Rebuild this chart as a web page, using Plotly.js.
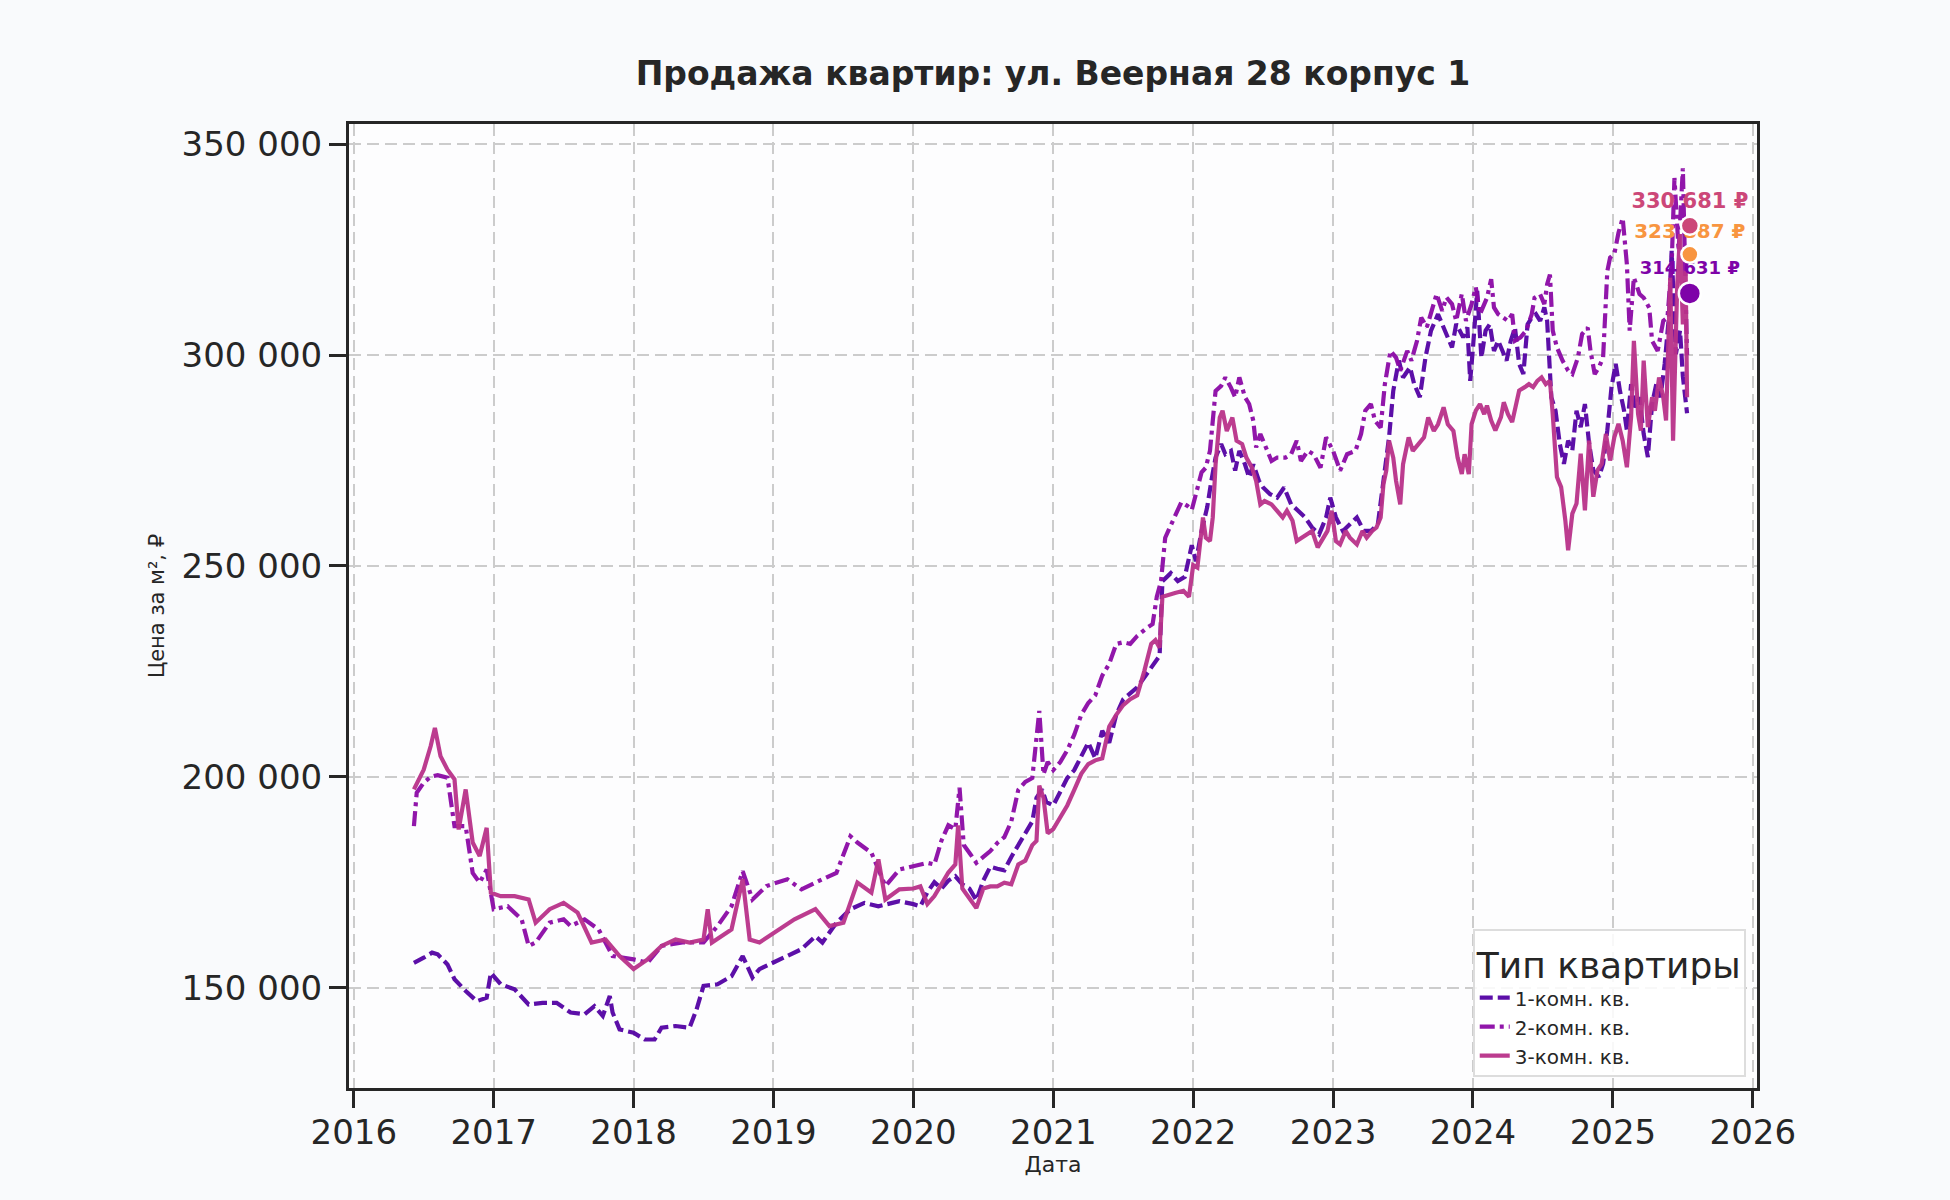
<!DOCTYPE html>
<html>
<head>
<meta charset="utf-8">
<script src="https://cdn.plot.ly/plotly-3.0.1.min.js"></script>
<style>
  html, body { margin: 0; padding: 0; background: #f9fafc; }
  #chart { width: 1950px; height: 1200px; }
</style>
</head>
<body>
<div id="chart"></div>
<script>
// price per m2 by apartment type, dates as decimal years
var names = ['1-комн. кв.', '2-комн. кв.', '3-комн. кв.'];
var colors = ['#5302a3', '#8b0aa5', '#b83289'];

var x1 = [2016.43, 2016.47, 2016.5, 2016.56, 2016.6, 2016.67, 2016.72, 2016.8, 2016.88, 2016.95, 2016.98,
  2017.05, 2017.15, 2017.25, 2017.35, 2017.45, 2017.55, 2017.65, 2017.72, 2017.78, 2017.83, 2017.85, 2017.9,
  2018.0, 2018.08, 2018.15, 2018.2, 2018.3, 2018.4, 2018.45, 2018.5, 2018.6, 2018.7, 2018.78, 2018.85, 2018.9,
  2019.0, 2019.1, 2019.2, 2019.3, 2019.35, 2019.45, 2019.55, 2019.65, 2019.75, 2019.85, 2019.9,
  2020.0, 2020.05, 2020.1, 2020.15, 2020.2, 2020.25, 2020.3, 2020.35, 2020.4, 2020.45, 2020.5, 2020.55, 2020.6,
  2020.65, 2020.7, 2020.75, 2020.8, 2020.85, 2020.88, 2020.92, 2020.95,
  2021.0, 2021.1, 2021.15, 2021.25, 2021.3, 2021.35, 2021.4, 2021.45, 2021.5, 2021.6, 2021.7, 2021.76, 2021.78,
  2021.84, 2021.89, 2021.94, 2021.99, 2022.02, 2022.06, 2022.1, 2022.13, 2022.16, 2022.2, 2022.23, 2022.27,
  2022.3, 2022.33, 2022.37, 2022.4, 2022.43, 2022.47, 2022.5, 2022.55, 2022.6, 2022.65, 2022.7, 2022.75, 2022.8,
  2022.85, 2022.9, 2022.95, 2022.98, 2023.02, 2023.07, 2023.12, 2023.17, 2023.22, 2023.27, 2023.32, 2023.36,
  2023.4, 2023.43, 2023.47, 2023.5, 2023.55, 2023.58, 2023.62, 2023.66, 2023.7, 2023.75, 2023.8, 2023.85,
  2023.88, 2023.93, 2023.96, 2023.98, 2024.0, 2024.03, 2024.06, 2024.09, 2024.12, 2024.15, 2024.18, 2024.21,
  2024.24, 2024.27, 2024.3, 2024.33, 2024.36, 2024.39, 2024.42, 2024.45, 2024.48, 2024.51, 2024.53, 2024.56,
  2024.59, 2024.62, 2024.65, 2024.68, 2024.71, 2024.74, 2024.77, 2024.8, 2024.83, 2024.86, 2024.9, 2024.93,
  2024.96, 2024.99, 2025.02, 2025.05, 2025.08, 2025.1, 2025.13, 2025.16, 2025.19, 2025.22, 2025.25, 2025.28,
  2025.31, 2025.34, 2025.37, 2025.4, 2025.42, 2025.45, 2025.48, 2025.5, 2025.53];
var y1 = [155900, 156500, 157100, 158300, 157900, 155500, 152000, 149200, 146800, 147600, 153500,
  150800, 149600, 146000, 146400, 146400, 144100, 143700, 145600, 143300, 148000, 144100, 140100,
  139300, 137700, 137700, 140500, 140900, 140500, 144800, 150400, 150800, 152700, 157500, 152400, 154400,
  155900, 157500, 159100, 162200, 160700, 165400, 168600, 170100, 169300, 170100, 170500,
  169800, 169300, 172600, 175000, 173500, 175400, 176400, 174500, 173500, 170700, 175400, 178700, 178200,
  177800, 181000, 183800, 186600, 189400, 195000, 197000, 194000,
  193200, 199700, 201600, 208100, 204400, 210900, 208100, 214700, 218400, 221200, 225900, 228700, 246400,
  248300, 246400, 247400, 254900, 251100, 258300, 263900, 270200, 275700, 278900, 276500, 277300,
  272600, 277300, 274100, 271000, 274100, 270200, 268600, 267000, 266200, 268600, 264600, 263100, 261500,
  259100, 257500, 261500, 266200, 261500, 258300, 259900, 261500, 258300, 258300, 259900, 269400,
  280500, 291500, 298700, 294700, 297100, 293100, 290000, 299400, 305800, 309700, 305800, 301800,
  307400, 304200, 306600, 293900, 301800, 315200, 299400, 305800, 307300, 301000, 303400, 301000,
  298700, 303400, 306500, 297900, 295500, 307300, 308900, 309700, 308100, 311300, 308100, 290000,
  286800, 279000, 274200, 279700, 277400, 286800, 282900, 288400, 279000, 272700, 271100, 274200,
  282100, 292400, 297900, 291600, 286800, 282100, 293100, 287600, 290000, 281300, 275800, 288400,
  293100, 290000, 297900, 308900, 324700, 300200, 305800, 295000, 286200];

var x2 = [2016.43, 2016.45, 2016.5, 2016.55, 2016.6, 2016.67, 2016.72, 2016.8, 2016.85, 2016.9, 2016.95,
  2017.0, 2017.1, 2017.2, 2017.25, 2017.3, 2017.4, 2017.5, 2017.55, 2017.65, 2017.75, 2017.85,
  2018.0, 2018.1, 2018.2, 2018.35, 2018.5, 2018.6, 2018.7, 2018.78, 2018.85, 2018.95,
  2019.1, 2019.2, 2019.35, 2019.45, 2019.55, 2019.6, 2019.7, 2019.8, 2019.9,
  2020.0, 2020.1, 2020.15, 2020.2, 2020.25, 2020.3, 2020.33, 2020.36, 2020.4, 2020.45, 2020.5, 2020.55,
  2020.6, 2020.65, 2020.7, 2020.75, 2020.8, 2020.85, 2020.9, 2020.93, 2020.96,
  2021.0, 2021.05, 2021.1, 2021.15, 2021.2, 2021.25, 2021.3, 2021.35, 2021.4, 2021.45, 2021.5, 2021.55,
  2021.6, 2021.665, 2021.71, 2021.74, 2021.77, 2021.8, 2021.855, 2021.915, 2021.96, 2021.99,
  2022.06, 2022.09, 2022.12, 2022.16, 2022.2, 2022.23, 2022.27, 2022.3, 2022.33, 2022.37, 2022.4, 2022.43,
  2022.45, 2022.48, 2022.52, 2022.56, 2022.6, 2022.66, 2022.7, 2022.74, 2022.77, 2022.82, 2022.86, 2022.91,
  2022.95, 2023.0, 2023.05, 2023.1, 2023.16, 2023.2, 2023.23, 2023.27, 2023.3, 2023.34, 2023.37, 2023.41,
  2023.45, 2023.48, 2023.53, 2023.56, 2023.6, 2023.63, 2023.67, 2023.71, 2023.74, 2023.78, 2023.81, 2023.85,
  2023.88, 2023.92, 2023.95, 2023.99, 2024.02, 2024.05, 2024.08, 2024.1, 2024.13, 2024.15, 2024.18, 2024.21,
  2024.25, 2024.28, 2024.3, 2024.34, 2024.38, 2024.42, 2024.44, 2024.48, 2024.51, 2024.53, 2024.55, 2024.57,
  2024.6, 2024.64, 2024.68, 2024.71, 2024.75, 2024.78, 2024.82, 2024.84, 2024.87, 2024.9, 2024.93, 2024.96,
  2024.98, 2025.01, 2025.04, 2025.07, 2025.1, 2025.12, 2025.15, 2025.19, 2025.22, 2025.26, 2025.28, 2025.32,
  2025.36, 2025.39, 2025.42, 2025.44, 2025.47, 2025.5, 2025.52, 2025.53];
var y2 = [188300, 196200, 198600, 200000, 200400, 199800, 188300, 188300, 177200, 174900, 178000,
  168600, 169300, 166200, 159900, 160700, 165400, 166200, 164600, 166200, 163800, 157500,
  156700, 155900, 159900, 160700, 160700, 164600, 169300, 177600, 170900, 174100,
  175700, 173300, 175700, 177200, 185900, 184400, 182000, 174100, 178000,
  178700, 179600, 179200, 184800, 188500, 187600, 197400, 183800, 182000, 179600, 181000, 182400,
  184300, 185700, 189400, 196900, 198800, 199700, 215600, 200600, 203500,
  201600, 203500, 206300, 210000, 214700, 217500, 219300, 224000, 226800, 231500, 231900, 231500,
  233400, 235200, 236200, 242700, 246400, 256700, 260500, 265100, 264200, 263300,
  272200, 273300, 277300, 291500, 292700, 294700, 292300, 290000, 294700, 290000, 288400, 284400,
  278100, 281300, 278100, 274900, 275700, 275700, 276500, 279700, 274900, 277300, 276500, 273300,
  280500, 277300, 272600, 276500, 277300, 281300, 286800, 288400, 284400, 282800, 293100, 301000,
  299400, 296300, 301000, 298700, 303400, 308900, 306600, 311300, 314500, 310500, 313700, 312100,
  308100, 314500, 308100, 312100, 316100, 309700, 312100, 313600, 318000, 311300, 309700, 308900,
  308100, 309700, 303400, 304200, 305800, 309700, 313600, 314400, 312100, 316800, 319100, 305800,
  301800, 298700, 296300, 295500, 299400, 305000, 306500, 301000, 295500, 297100, 299400, 319900,
  323100, 324000, 329000, 332500, 321500, 305800, 318400, 314500, 313600, 311200, 303400, 301000,
  308100, 308900, 321500, 342000, 324700, 344300, 316900, 300000];

var x3 = [2016.43, 2016.5, 2016.55, 2016.58, 2016.62, 2016.67, 2016.72, 2016.75, 2016.8, 2016.85, 2016.9,
  2016.95, 2016.98, 2017.05, 2017.15, 2017.25, 2017.3, 2017.4, 2017.5, 2017.6, 2017.7, 2017.8, 2017.9,
  2018.0, 2018.1, 2018.2, 2018.3, 2018.4, 2018.5, 2018.53, 2018.56, 2018.7, 2018.78, 2018.83, 2018.9,
  2019.0, 2019.15, 2019.3, 2019.4, 2019.5, 2019.6, 2019.7, 2019.75, 2019.8, 2019.9,
  2020.0, 2020.05, 2020.1, 2020.15, 2020.2, 2020.25, 2020.3, 2020.32, 2020.35, 2020.4, 2020.45, 2020.5,
  2020.55, 2020.6, 2020.65, 2020.7, 2020.75, 2020.8, 2020.85, 2020.88, 2020.9, 2020.93, 2020.96,
  2021.0, 2021.05, 2021.1, 2021.15, 2021.2, 2021.25, 2021.3, 2021.35, 2021.4, 2021.45, 2021.5, 2021.55,
  2021.6, 2021.65, 2021.7, 2021.73, 2021.76, 2021.78, 2021.82, 2021.87, 2021.93, 2021.97,
  2022.0, 2022.03, 2022.07, 2022.09, 2022.12, 2022.14, 2022.16, 2022.19, 2022.21, 2022.24, 2022.28, 2022.31,
  2022.35, 2022.38, 2022.42, 2022.45, 2022.48, 2022.51, 2022.56, 2022.6, 2022.64, 2022.67, 2022.71, 2022.74,
  2022.78, 2022.81, 2022.85, 2022.89, 2022.92, 2022.96, 2022.99, 2023.02, 2023.05, 2023.09, 2023.12, 2023.17,
  2023.21, 2023.24, 2023.28, 2023.31, 2023.34, 2023.36, 2023.38, 2023.4, 2023.43, 2023.45, 2023.48, 2023.5,
  2023.54, 2023.57, 2023.61, 2023.65, 2023.68, 2023.72, 2023.75, 2023.79, 2023.82, 2023.86, 2023.89, 2023.92,
  2023.94, 2023.97, 2023.99, 2024.02, 2024.05, 2024.08, 2024.1, 2024.13, 2024.16, 2024.2, 2024.22, 2024.25,
  2024.28, 2024.3, 2024.33, 2024.37, 2024.4, 2024.43, 2024.46, 2024.49, 2024.52, 2024.55, 2024.57, 2024.6,
  2024.63, 2024.66, 2024.68, 2024.71, 2024.74, 2024.77, 2024.8, 2024.83, 2024.86, 2024.89, 2024.92, 2024.95,
  2024.98, 2025.01, 2025.04, 2025.07, 2025.1, 2025.13, 2025.15, 2025.18, 2025.2, 2025.22, 2025.25, 2025.28,
  2025.3, 2025.33, 2025.36, 2025.38, 2025.41, 2025.43, 2025.46, 2025.48, 2025.5, 2025.52, 2025.53];
var y3 = [197000, 201700, 207300, 211600, 204900, 201700, 199400, 187500, 197000, 184400, 181200,
  187900, 172500, 171700, 171700, 170900, 165400, 168600, 170100, 167800, 160700, 161400, 157500,
  154400, 156700, 159900, 161400, 160700, 161400, 168600, 160700, 163800, 175700, 161400, 160700,
  163000, 166200, 168600, 164600, 165400, 174900, 172500, 180400, 170900, 173300,
  173500, 174000, 169800, 171700, 174500, 177300, 179200, 188500, 173500, 171200, 168900, 173500,
  174000, 174000, 174900, 174500, 179200, 180100, 183800, 184800, 197900, 195000, 186600,
  187600, 190400, 193200, 196900, 200700, 203000, 203900, 204400, 211900, 214700, 217000, 218400,
  219300, 225000, 231500, 232400, 230600, 242700, 243200, 243600, 244100, 242700,
  250200, 249600, 261500, 256700, 255900, 261500, 274100, 285200, 286800, 282000, 285200, 279700,
  278900, 275700, 273300, 270200, 264600, 265400, 264600, 263100, 261500, 263100, 260700, 255900,
  256700, 257500, 258300, 254400, 255900, 258300, 263100, 255900, 255100, 258300, 256700, 255100,
  258300, 256700, 258300, 259100, 261500, 269400, 272600, 279700, 275700, 270200, 264600, 274100,
  280500, 277300, 278900, 280500, 285200, 282000, 283600, 287600, 283600, 282000, 275700, 271800,
  276500, 271800, 283600, 286800, 288400, 286000, 288000, 284500, 282100, 285300, 288800, 286000,
  284100, 286800, 291600, 292400, 293100, 292400, 293900, 294700, 293100, 293900, 286000, 271100,
  268700, 260800, 253700, 262400, 264800, 276600, 263200, 279700, 266400, 272700, 274200, 281300,
  275000, 280500, 283700, 279700, 273400, 285300, 303400, 286000, 282100, 298700, 282900, 290000,
  286800, 294700, 290000, 284500, 318400, 279700, 316800, 328700, 307300, 320000, 290000];

// latest values marked at the right end
var lastX = 2025.55;
var lastValues = [314631, 323887, 330681];
var lastLabels = ['314 631 ₽', '323 887 ₽', '330 681 ₽'];
var lastColors = ['#7e03a8', '#f89540', '#cc4778'];
var lastSizes = [22, 17, 18];
var lastFont = [18, 20, 21];

var yTicks = [150000, 200000, 250000, 300000, 350000];
var xTicks = [2016, 2017, 2018, 2019, 2020, 2021, 2022, 2023, 2024, 2025, 2026];

var dashes = ['13px,5px', '15px,5px,4px,5px', 'solid'];
var xs = [x1, x2, x3];
var ys = [y1, y2, y3];

var traces = [];
for (var i = 0; i < 3; i++) {
  traces.push({
    x: xs[i], y: ys[i],
    type: 'scatter', mode: 'lines',
    name: names[i],
    line: { color: colors[i], width: 4.2, dash: dashes[i] },
    opacity: 0.95
  });
}
for (var j = 0; j < 3; j++) {
  traces.push({
    x: [lastX], y: [lastValues[j]],
    type: 'scatter', mode: 'markers+text',
    showlegend: false,
    marker: { color: lastColors[j], size: lastSizes[j], line: { color: '#ffffff', width: 2.5 } },
    text: [lastLabels[j]],
    textposition: 'top center',
    textfont: { family: 'DejaVu Sans', size: lastFont[j], color: lastColors[j], weight: 'bold' },
    hoverinfo: 'skip'
  });
}

var gridDash = '12px,6px';
var layout = {
  width: 1950, height: 1200,
  paper_bgcolor: '#f9fafc',
  plot_bgcolor: '#fdfdfe',
  separators: ', ',
  font: { family: 'DejaVu Sans', color: '#262626' },
  margin: { l: 349, r: 193, t: 124, b: 112 },
  title: {
    text: '<b>Продажа квартир: ул. Веерная 28 корпус 1</b>',
    font: { size: 33, color: '#262626' },
    xref: 'paper', x: 0.5, xanchor: 'center',
    yref: 'container', y: 0.9385, yanchor: 'middle'
  },
  xaxis: {
    type: 'linear',
    range: [2015.966, 2026.03],
    tickvals: xTicks, tickformat: 'd',
    tickfont: { size: 34 },
    ticks: 'outside', ticklen: 17, tickwidth: 3, tickcolor: '#262626',
    ticklabelstandoff: -5,
    showline: true, linecolor: '#262626', linewidth: 3, mirror: true,
    showgrid: true, gridcolor: '#cccccc', gridwidth: 2, griddash: gridDash,
    zeroline: false,
    title: { text: 'Дата', font: { size: 22 }, standoff: 6 }
  },
  yaxis: {
    range: [126200, 354800],
    tickvals: yTicks, tickformat: ',d',
    tickfont: { size: 34 },
    ticks: 'outside', ticklen: 17, tickwidth: 3, tickcolor: '#262626',
    showline: true, linecolor: '#262626', linewidth: 3, mirror: true,
    showgrid: true, gridcolor: '#cccccc', gridwidth: 2, griddash: gridDash,
    zeroline: false,
    title: { text: 'Цена за м², ₽', font: { size: 21 }, standoff: 12 }
  },
  legend: {
    x: 0.992, xanchor: 'right',
    y: 0.011, yanchor: 'bottom',
    bgcolor: 'rgba(255,255,255,0.85)',
    bordercolor: '#dddddd', borderwidth: 2,
    font: { size: 20, color: '#262626' },
    title: { text: 'Тип квартиры', side: 'top center', font: { size: 36, color: '#262626' } },
    tracegroupgap: 0
  },
  showlegend: true
};

Plotly.newPlot('chart', traces, layout, { displayModeBar: false, staticPlot: true });
</script>
</body>
</html>
